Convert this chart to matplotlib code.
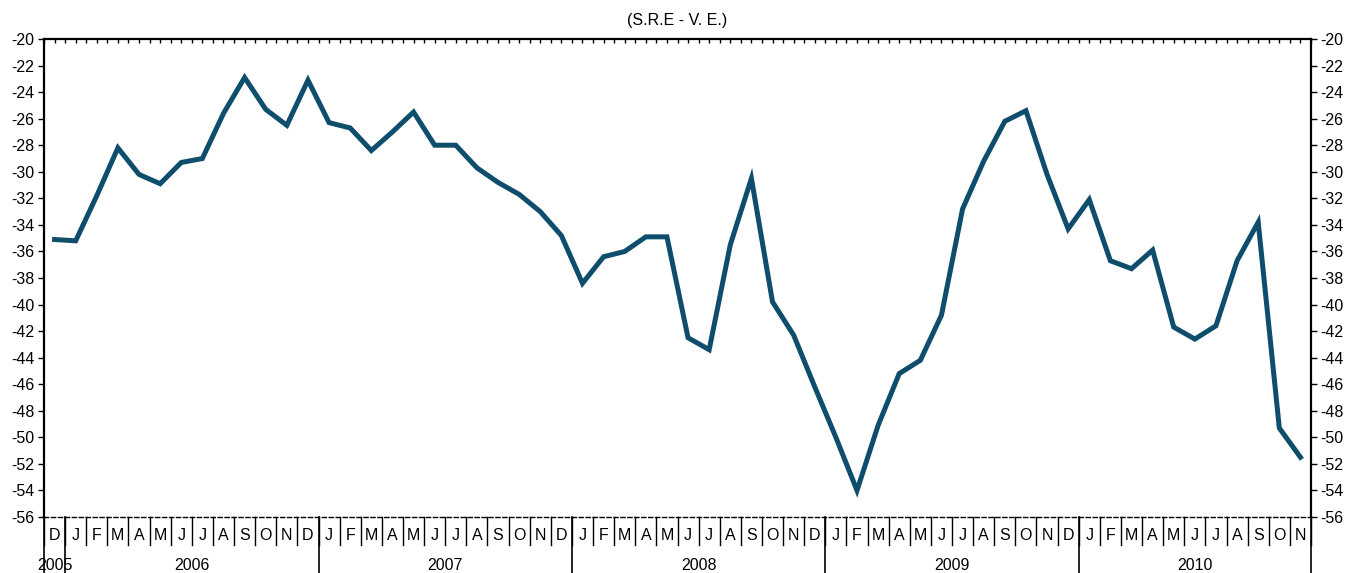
import matplotlib.pyplot as plt
import matplotlib.transforms as mtransforms
import numpy as np

plt.rcParams['font.family'] = ['Liberation Sans', 'DejaVu Sans']
plt.rcParams['axes.unicode_minus'] = False

# month initials, Dec 2005 -> Nov 2010
months = ['D'] + ['J', 'F', 'M', 'A', 'M', 'J', 'J', 'A', 'S', 'O', 'N', 'D'] * 4 + \
         ['J', 'F', 'M', 'A', 'M', 'J', 'J', 'A', 'S', 'O', 'N']
years = ['2005', '2006', '2007', '2008', '2009', '2010']
year_counts = [1, 12, 12, 12, 12, 11]

values = [-35.1, -35.2, -31.8, -28.2, -30.2, -30.9, -29.3, -29.0, -25.6, -22.9,
          -25.3, -26.5, -23.1, -26.3, -26.7, -28.4, -27.0, -25.5, -28.0, -28.0,
          -29.7, -30.8, -31.7, -33.0, -34.8, -38.4, -36.4, -36.0, -34.9, -34.9,
          -42.5, -43.4, -35.5, -30.5, -39.8, -42.3, -46.2, -50.0, -54.0, -49.1,
          -45.2, -44.2, -40.8, -32.8, -29.2, -26.2, -25.4, -30.2, -34.3, -32.1,
          -36.7, -37.3, -35.9, -41.7, -42.6, -41.6, -36.7, -33.8, -49.3, -51.5]

fs = 11.5

fig = plt.figure(figsize=(13.5, 5.73), dpi=100)
ax = fig.add_axes([44 / 1350, 1 - 517 / 573, (1311 - 44) / 1350, (517 - 39) / 573])

x = np.arange(len(values))
ax.plot(x, values, color='#0e4d6b', lw=3.6, solid_joinstyle='miter')

ax.set_xlim(-0.5, len(values) - 0.5)
ax.set_ylim(-56, -20)
ax.set_yticks(np.arange(-56, -19, 2))
ax.tick_params(axis='y', direction='out', length=4, width=1, labelsize=fs,
               left=True, right=True, labelleft=True, labelright=True, pad=3)
ax.set_xticks(np.arange(-0.5, len(values), 0.5))
ax.tick_params(axis='x', direction='in', length=3, width=1,
               bottom=False, top=True, labelbottom=False)

for s in ['left', 'right', 'top']:
    ax.spines[s].set_linewidth(1.6)
ax.spines['bottom'].set_linestyle((0, (3, 2)))
ax.spines['bottom'].set_linewidth(1)

trans = mtransforms.blended_transform_factory(ax.transData, ax.transAxes)
h = 1 / 478.0

# month labels and short separators
for i, m in enumerate(months):
    ax.text(i, -19 * h, m, transform=trans, ha='center', va='center', fontsize=fs)
for i in range(len(months) + 1):
    ax.plot([i - 0.5, i - 0.5], [0, -28 * h], transform=trans, color='black',
            lw=1, clip_on=False)

# year labels and long separators
start = 0
bounds = [-0.5]
for yr, n in zip(years, year_counts):
    centre = start + (n - 1) / 2
    ax.text(centre, -48 * h, yr, transform=trans, ha='center', va='center', fontsize=fs)
    start += n
    bounds.append(start - 0.5)
for b in bounds:
    ax.plot([b, b], [0, -60 * h], transform=trans, color='black',
            lw=1.2, clip_on=False)

ax.set_title('(S.R.E - V. E.)', fontsize=fs, pad=10)

fig.savefig('out.png', dpi=100)
